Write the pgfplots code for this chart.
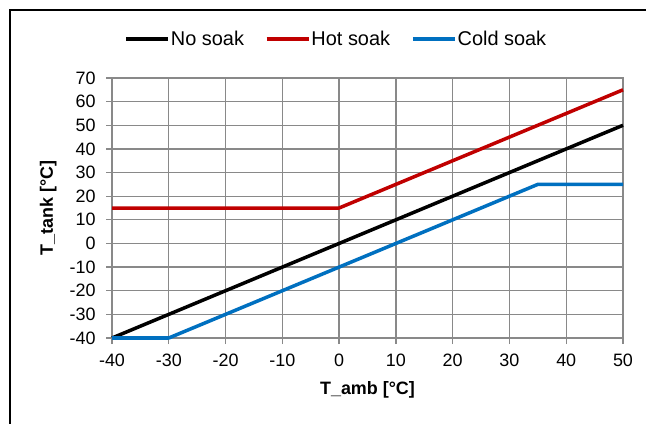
\documentclass[border=0pt]{standalone}
\usepackage{fontspec}
\setmainfont{Liberation Sans}
\usepackage{pgfplots}
\pgfplotsset{compat=1.18}
\definecolor{hotred}{HTML}{C00000}
\definecolor{coldblue}{HTML}{0070C0}
\definecolor{gridgray}{HTML}{898989}
\begin{document}
\begin{tikzpicture}
\useasboundingbox (0,0) rectangle (646bp,424bp);
\clip (0,0) rectangle (646bp,424bp);
\fill[white] (0,0) rectangle (646bp,424bp);
\draw[black, line width=1.5bp] (10bp,-20bp) rectangle (680bp,414bp);
\begin{axis}[
  at={(112bp,86bp)}, anchor=south west,
  scale only axis, width=511bp, height=260bp,
  xmin=-40, xmax=50, ymin=-40, ymax=70,
  xtick={-40,-30,...,50}, ytick={-40,-30,...,70},
  grid=major,
  major grid style={gridgray, line width=1.3bp},
  axis line style={gridgray, line width=1.3bp},
  tick style={gridgray, line width=1.3bp},
  tick align=outside, major tick length=6bp,
  tick pos=left,
  clip=false,
  /pgf/number format/assume math mode=true,
  ticklabel style={font=\fontsize{18}{21}\selectfont},
  xticklabel style={yshift=-6bp},
  yticklabel style={xshift=-7bp},
  xlabel={T\_amb [°C]}, ylabel={T\_tank [°C]},
  label style={font=\fontsize{18}{21}\selectfont\bfseries},
  xlabel style={at={(axis description cs:0.5,-0.2)}, anchor=center},
  ylabel style={at={(axis description cs:-0.125,0.5)}, anchor=center},
  legend style={at={(axis description cs:0.438,1.15)}, anchor=center, draw=none, fill=none,
    font=\fontsize{20}{23}\selectfont, /tikz/every even column/.append style={column sep=20bp},
    nodes={inner sep=1bp}},
  legend columns=3,
  legend image code/.code={\draw[#1] (0bp,0bp) -- (42bp,0bp);},
  every axis plot/.append style={line width=3.5bp, line join=round},
]
\addplot[black] coordinates {(-40,-40) (50,50)};
\addlegendentry{No soak}
\addplot[hotred] coordinates {(-40,15) (0,15) (50,65)};
\addlegendentry{Hot soak}
\addplot[coldblue] coordinates {(-40,-40) (-30,-40) (35,25) (50,25)};
\addlegendentry{Cold soak}
\end{axis}
\end{tikzpicture}
\end{document}
